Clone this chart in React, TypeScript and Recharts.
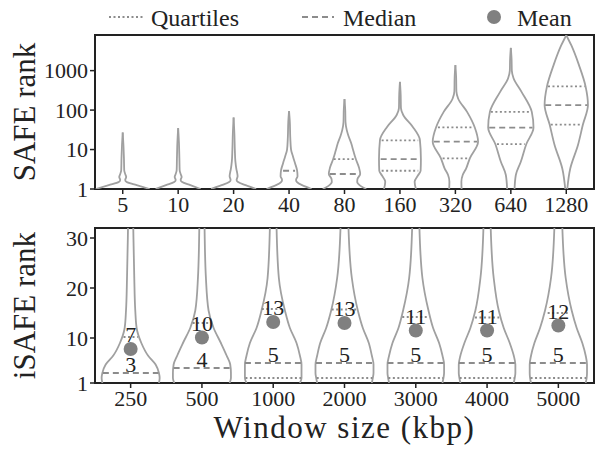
import React from 'react';
import { ComposedChart, Line, Scatter, XAxis, YAxis, ReferenceLine, ReferenceArea, Label } from 'recharts';

// top panel: SAFE rank per window size
const SAFE_WINDOWS = ['5', '10', '20', '40', '80', '160', '320', '640', '1280'];
const SAFE_TICKS = [1, 10, 100, 1000];
const SAFE_MAX = 8000;

// violin outline per window: [rank, half width in category units]
const safeViolins: number[][][] = [
  [[1, 0.486], [1.25, 0.252], [1.5, 0.072], [1.7, 0.045], [2.0, 0.063], [2.4, 0.045], [3, 0.027], [6, 0.022], [12, 0.014], [27, 0]],
  [[1, 0.405], [1.25, 0.22], [1.5, 0.072], [1.7, 0.045], [2.0, 0.063], [2.4, 0.045], [3, 0.027], [6, 0.022], [15, 0.014], [35, 0]],
  [[1, 0.405], [1.25, 0.216], [1.5, 0.081], [1.7, 0.054], [2.1, 0.072], [2.6, 0.063], [3.2, 0.05], [5, 0.032], [10, 0.022], [25, 0.014], [65, 0]],
  [[1, 0.405], [1.25, 0.234], [1.5, 0.144], [1.7, 0.126], [2.1, 0.153], [3, 0.144], [4.5, 0.108], [6.6, 0.072], [10, 0.036], [20, 0.022], [50, 0.014], [94, 0]],
  [[1, 0.391], [1.2, 0.288], [1.5, 0.229], [1.8, 0.234], [2.4, 0.283], [3.5, 0.261], [5.75, 0.204], [9, 0.162], [14.4, 0.121], [22, 0.072], [31, 0.041], [50, 0.018], [100, 0.013], [190, 0]],
  [[1, 0.288], [1.53, 0.265], [2.2, 0.324], [2.9, 0.373], [5.75, 0.378], [17.5, 0.36], [38, 0.229], [75, 0.059], [112, 0.018], [250, 0.013], [520, 0]],
  [[1, 0.112], [1.53, 0.108], [2.26, 0.132], [3.3, 0.193], [6, 0.26], [15.8, 0.409], [36.6, 0.348], [90, 0.211], [197, 0.049], [300, 0.018], [700, 0.013], [1380, 0]],
  [[1, 0.067], [2.26, 0.09], [4.9, 0.18], [13.8, 0.28], [36, 0.409], [90, 0.378], [290, 0.193], [640, 0.049], [1000, 0.018], [2000, 0.013], [3780, 0]],
  [[1, 0.018], [3.3, 0.072], [13, 0.211], [43, 0.3], [134, 0.391], [400, 0.348], [1380, 0.229], [4400, 0.09], [7900, 0]],
];

// [rank, half width]
const safeQ1: (number[] | null)[] = [null, null, null, null, null, [2.9, 0.33], [6, 0.23], [13.8, 0.25], [43, 0.28]];
const safeMedian: (number[] | null)[] = [null, null, null, [2.9, 0.108], [2.4, 0.265], [5.75, 0.348], [15.8, 0.39], [36, 0.39], [134, 0.38]];
const safeQ3: (number[] | null)[] = [null, null, null, null, [5.75, 0.195], [17, 0.33], [36.6, 0.315], [90, 0.36], [400, 0.33]];

// bottom panel: iSAFE rank per window size (kbp)
const ISAFE_WINDOWS = ['250', '500', '1000', '2000', '3000', '4000', '5000'];
const ISAFE_TICKS = [1, 10, 20, 30];
const ISAFE_MAX = 32;

const isafeLevels = [1, 2, 3, 4.7, 6.5, 9, 12, 15.5, 22, 32];
const isafeWidths = [
  [0.397, 0.407, 0.397, 0.35, 0.243, 0.15, 0.084, 0.065, 0.051, 0.037],
  [0.388, 0.407, 0.407, 0.397, 0.346, 0.266, 0.164, 0.093, 0.056, 0.037],
  [0.374, 0.397, 0.397, 0.397, 0.374, 0.327, 0.234, 0.164, 0.079, 0.047],
  [0.383, 0.397, 0.407, 0.407, 0.383, 0.341, 0.257, 0.187, 0.103, 0.056],
  [0.374, 0.388, 0.397, 0.397, 0.374, 0.327, 0.243, 0.178, 0.093, 0.051],
  [0.374, 0.388, 0.397, 0.397, 0.374, 0.318, 0.234, 0.164, 0.093, 0.051],
  [0.383, 0.397, 0.402, 0.402, 0.383, 0.336, 0.257, 0.187, 0.103, 0.056],
];
const isafeMeans = [7.8, 10.1, 13.2, 13.0, 11.5, 11.5, 12.5];
const isafeMedians = [3, 4, 5, 5, 5, 5, 5];
const isafeMedianWidths = [0.39, 0.397, 0.397, 0.4, 0.397, 0.397, 0.4];
const isafeQ1: (number[] | null)[] = [null, null, [2, 0.39], [2, 0.39], [2, 0.385], [2, 0.385], [2, 0.39]];
const isafeQ3: number[][] = [[10.2, 0.1], [13, 0.13], [15.8, 0.16], [15.7, 0.18], [14.2, 0.19], [14.1, 0.17], [15, 0.15]];

const FONT = '"Liberation Serif", serif';
const OUTLINE = '#a0a0a0';
const INNER = '#8c8c8c';
const INK = '#222';
const DOT = '#808080';
const DOTTED = '2 2.5';
const DASHED = '6 4';

const sidePoints = (profile: number[][], center: number, sign: number) =>
  profile.map(([v, w]) => ({ x: center + sign * w, y: v }));

const violinLines = (profiles: number[][][], prefix: string) =>
  profiles.flatMap((prof, i) =>
    [-1, 1].map((s) => (
      <Line
        key={`${prefix}-${i}-${s}`}
        data={sidePoints(prof, i, s)}
        dataKey="y"
        type="monotoneY"
        stroke={OUTLINE}
        strokeWidth={1.8}
        dot={false}
        activeDot={false}
        isAnimationActive={false}
      />
    ))
  );

const quartileLine = (q: number[] | null, i: number, dash: string, key: string) => {
  if (!q) return null;
  const [v, w] = q;
  return (
    <ReferenceLine
      key={key}
      segment={[{ x: i - w, y: v }, { x: i + w, y: v }]}
      stroke={INNER}
      strokeWidth={1.8}
      strokeDasharray={dash}
      ifOverflow="visible"
    />
  );
};

const tickStyle = { fill: INK, fontSize: 22, fontFamily: FONT };
const tickLineStyle = { stroke: INK, strokeWidth: 1.5 };
const titleStyle = { textAnchor: 'middle' as const, fontSize: 31, fontFamily: FONT, fill: INK };

const MeanDot = (p: any) => (
  <g>
    <circle cx={p.cx} cy={p.cy} r={7} fill={DOT} />
    <text x={p.cx} y={p.cy - 7} textAnchor="middle" fontSize={22} fontFamily={FONT} fill={INK}>
      {p.payload.label}
    </text>
  </g>
);

const MedianText = (p: any) => (
  <text x={p.cx} y={p.cy - 1} textAnchor="middle" fontSize={22} fontFamily={FONT} fill={INK}>
    {p.payload.label}
  </text>
);

function SafePanel() {
  return (
    <ComposedChart width={595} height={219} margin={{ top: 35, right: 1, bottom: 0, left: 0 }}>
      <XAxis
        type="number"
        dataKey="x"
        domain={[-0.5, SAFE_WINDOWS.length - 0.5]}
        ticks={SAFE_WINDOWS.map((_, i) => i)}
        tickFormatter={(i) => SAFE_WINDOWS[i]}
        interval={0}
        allowDataOverflow
        axisLine={false}
        tickLine={tickLineStyle}
        tickSize={5}
        tick={tickStyle}
        height={30}
      />
      <YAxis
        type="number"
        dataKey="y"
        scale="log"
        domain={[1, SAFE_MAX]}
        ticks={SAFE_TICKS}
        interval={0}
        allowDataOverflow
        axisLine={false}
        tickLine={tickLineStyle}
        tickSize={5}
        tick={tickStyle}
        width={95}
      >
        <Label value="SAFE rank" angle={-90} position="insideLeft" offset={24} style={titleStyle} />
      </YAxis>
      <ReferenceArea x1={-0.5} x2={SAFE_WINDOWS.length - 0.5} y1={1} y2={SAFE_MAX} fill="none" stroke={INK} strokeWidth={2} ifOverflow="visible" />
      {violinLines(safeViolins, 'safe')}
      {safeQ1.map((q, i) => quartileLine(q, i, DOTTED, `sq1-${i}`))}
      {safeMedian.map((q, i) => quartileLine(q, i, DASHED, `smed-${i}`))}
      {safeQ3.map((q, i) => quartileLine(q, i, DOTTED, `sq3-${i}`))}
    </ComposedChart>
  );
}

function IsafePanel() {
  const profiles = isafeWidths.map((ws) => isafeLevels.map((v, k) => [v, ws[k]]));
  const means = isafeMeans.map((m, i) => ({ x: i, y: m, label: String(Math.floor(m)) }));
  const medians = isafeMedians.map((m, i) => ({ x: i, y: m, label: String(m) }));
  return (
    <ComposedChart width={595} height={250} margin={{ top: 28, right: 1, bottom: 0, left: 0 }}>
      <XAxis
        type="number"
        dataKey="x"
        domain={[-0.5, ISAFE_WINDOWS.length - 0.5]}
        ticks={ISAFE_WINDOWS.map((_, i) => i)}
        tickFormatter={(i) => ISAFE_WINDOWS[i]}
        interval={0}
        allowDataOverflow
        axisLine={false}
        tickLine={tickLineStyle}
        tickSize={5}
        tick={tickStyle}
        height={67}
      >
        <Label value="Window size (kbp)" position="insideBottom" offset={12} style={{ ...titleStyle, letterSpacing: 1.5 }} />
      </XAxis>
      <YAxis
        type="number"
        dataKey="y"
        domain={[1, ISAFE_MAX]}
        ticks={ISAFE_TICKS}
        interval={0}
        allowDataOverflow
        axisLine={false}
        tickLine={tickLineStyle}
        tickSize={5}
        tick={tickStyle}
        width={95}
      >
        <Label value="iSAFE rank" angle={-90} position="insideLeft" offset={24} style={titleStyle} />
      </YAxis>
      <ReferenceArea x1={-0.5} x2={ISAFE_WINDOWS.length - 0.5} y1={1} y2={ISAFE_MAX} fill="none" stroke={INK} strokeWidth={2} ifOverflow="visible" />
      {violinLines(profiles, 'isafe')}
      {isafeQ1.map((q, i) => quartileLine(q, i, DOTTED, `iq1-${i}`))}
      {isafeMedians.map((m, i) => quartileLine([m, isafeMedianWidths[i]], i, DASHED, `imed-${i}`))}
      {isafeQ3.map((q, i) => quartileLine(q, i, DOTTED, `iq3-${i}`))}
      <Scatter data={medians} dataKey="y" shape={MedianText} isAnimationActive={false} />
      <Scatter data={means} dataKey="y" shape={MeanDot} isAnimationActive={false} />
    </ComposedChart>
  );
}

function LegendStrip() {
  return (
    <svg width={595} height={35} style={{ position: 'absolute', left: 0, top: 0 }}>
      <line x1={109} x2={145} y1={17} y2={17} stroke={INNER} strokeWidth={1.8} strokeDasharray={DOTTED} />
      <text x={151} y={26} fontSize={24} fontFamily={FONT} fill={INK}>Quartiles</text>
      <line x1={302} x2={334} y1={17} y2={17} stroke={INNER} strokeWidth={1.8} strokeDasharray={DASHED} />
      <text x={343} y={26} fontSize={24} fontFamily={FONT} fill={INK}>Median</text>
      <circle cx={494} cy={17} r={7} fill={DOT} />
      <text x={517} y={26} fontSize={24} fontFamily={FONT} fill={INK}>Mean</text>
    </svg>
  );
}

export default function App() {
  return (
    <div style={{ position: 'absolute', left: 0, top: 0, width: 595, height: 450, background: '#fff', fontFamily: FONT }}>
      <div style={{ position: 'absolute', left: 0, top: 0 }}>
        <SafePanel />
      </div>
      <div style={{ position: 'absolute', left: 0, top: 200 }}>
        <IsafePanel />
      </div>
      <LegendStrip />
    </div>
  );
}
